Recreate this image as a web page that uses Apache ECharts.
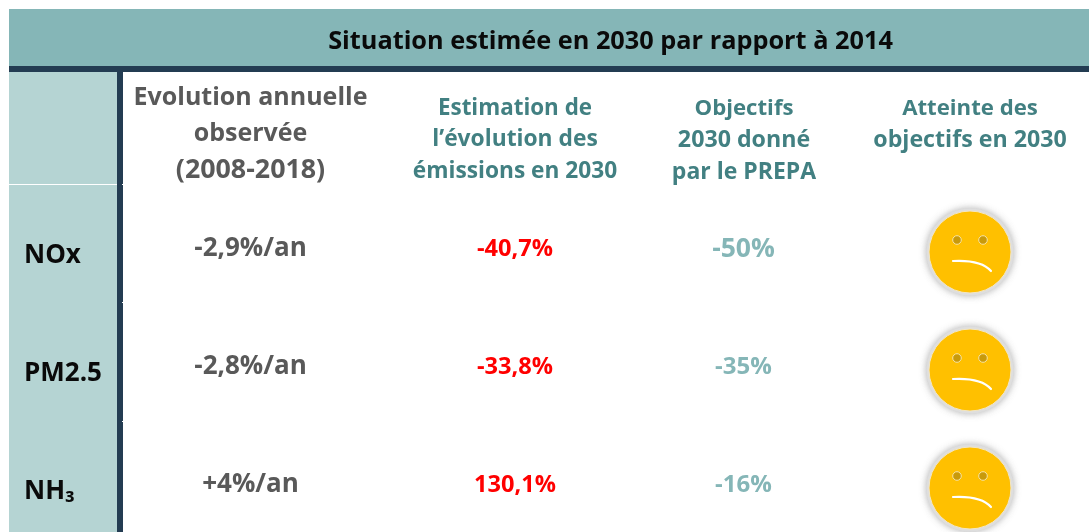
<!DOCTYPE html>
<html><head><meta charset="utf-8">
<style>html,body{margin:0;padding:0;background:#fff}#c{width:1089px;height:532px}</style>
<script src="https://cdn.jsdelivr.net/npm/echarts@6/dist/echarts.min.js"></script>
</head><body><div id="c"></div>
<script>
const titleText = 'Situation estimée en 2030 par rapport à 2014';
const columnHeaders = [
  ['Evolution annuelle', 'observée', '(2008-2018)'],
  ['Estimation de', 'l’évolution des', 'émissions en 2030'],
  ['Objectifs', '2030 donné', 'par le PREPA'],
  ['Atteinte des', 'objectifs en 2030']
];
const pollutants = ['NOx', 'PM2.5', 'NH₃'];
const observedTrend = ['-2,9%/an', '-2,8%/an', '+4%/an'];
const estimated2030 = ['-40,7%', '-33,8%', '130,1%'];
const objectives2030 = ['-50%', '-35%', '-16%'];
const objectiveFontSizes = [26.5, 24, 24];

const FF = '"Open Sans"';
const W = 1089, H = 532;
const colX = [250.5, 515, 744, 970];
const valX = [250.5, 515, 743.5];
const headerY = [[98, 134, 170], [108.5, 140, 172], [108.5, 140, 172], [108.5, 140]];
const headerSizes = [[25, 25, 26.8], [22.4, 22.8, 22.7], [22.2, 23.2, 23], [22.2, 23.2]];
const headerColors = ['#595959', '#428082', '#428082', '#428082'];
const rowValueY = [249, 367, 485];
const rowLabelY = [256, 374, 492];
const faceY = [252, 370, 488];

const items = [];
items.push({k: 'title', t: titleText});
columnHeaders.forEach((lines, c) => lines.forEach((t, i) =>
  items.push({k: 'text', t, x: colX[c], y: headerY[c][i], size: headerSizes[c][i], color: headerColors[c]})));
pollutants.forEach((t, r) => {
  items.push({k: 'text', t, x: 24, y: rowLabelY[r], size: 26, color: '#0a0a0a', align: 'left'});
  items.push({k: 'text', t: observedTrend[r], x: valX[0], y: rowValueY[r], size: 26, color: '#595959'});
  items.push({k: 'text', t: estimated2030[r], x: valX[1], y: rowValueY[r], size: 23.6, color: '#ff0000'});
  items.push({k: 'text', t: objectives2030[r], x: valX[2], y: rowValueY[r], size: objectiveFontSizes[r], color: '#85b6b7'});
  items.push({k: 'face', x: colX[3], y: faceY[r]});
});

function renderItem(params, api) {
  const it = items[params.dataIndex];
  const at = (x, y) => api.coord([x, y]);
  if (it.k === 'title') {
    const p = at(610.5, 42);
    return {type: 'text', style: {text: it.t, x: p[0], y: p[1], align: 'center', verticalAlign: 'middle',
      font: '700 25.3px ' + FF, fill: '#0a0a0a'}};
  }
  if (it.k === 'text') {
    const p = at(it.x, it.y);
    return {type: 'text', style: {text: it.t, x: p[0], y: p[1], align: it.align || 'center', verticalAlign: 'middle',
      font: '700 ' + it.size + 'px ' + FF, fill: it.color}};
  }
  const c = at(it.x, it.y);
  const eye = dx => ({type: 'circle', shape: {cx: c[0] + dx, cy: c[1] - 12, r: 4.3},
    style: {fill: '#c99a0a', stroke: '#f6e3a6', lineWidth: 1}});
  return {type: 'group', children: [
    {type: 'circle', shape: {cx: c[0], cy: c[1], r: 42},
      style: {fill: '#e6e6e6', stroke: '#dedede', lineWidth: 3, shadowColor: 'rgba(120,120,120,0.5)', shadowBlur: 7}},
    {type: 'circle', shape: {cx: c[0], cy: c[1], r: 41}, style: {fill: '#ffc000', stroke: '#f3e6c4', lineWidth: 1}},
    eye(-13), eye(13),
    {type: 'bezierCurve', shape: {x1: c[0] - 17, y1: c[1] + 9, cpx1: c[0] + 2, cpy1: c[1] + 8, cpx2: c[0] + 14, cpy2: c[1] + 11, x2: c[0] + 21, y2: c[1] + 19},
      style: {fill: 'none', stroke: '#fff', lineWidth: 2.2, lineCap: 'round'}}
  ]};
}

const panel = (x, y, width, height, fill) => ({type: 'rect', shape: {x, y, width, height}, style: {fill}, silent: true});
const chart = echarts.init(document.getElementById('c'), null, {renderer: 'canvas'});
chart.setOption({
  animation: false,
  backgroundColor: '#fff',
  grid: {left: 0, top: 0, width: W, height: H},
  xAxis: {type: 'value', min: 0, max: W, show: false},
  yAxis: {type: 'value', min: 0, max: H, inverse: true, show: false},
  graphic: [
    panel(9, 9, 1080, 57, '#85b6b7'),
    panel(9, 72, 108, 460, '#b5d4d3'),
    panel(9, 66, 1080, 6, '#233c52'),
    panel(117, 72, 6, 460, '#233c52'),
    panel(9, 184, 108, 1, '#ffffff'),
    panel(122, 184, 1, 1, '#ffffff'),
    panel(122, 302, 1, 1, '#ffffff'),
    panel(122, 421, 1, 1, '#ffffff')
  ],
  series: [{type: 'custom', coordinateSystem: 'cartesian2d', clip: false, silent: true,
    encode: {x: 0, y: 1}, data: items.map(() => [0, 0]), renderItem}]
});
</script></body></html>
